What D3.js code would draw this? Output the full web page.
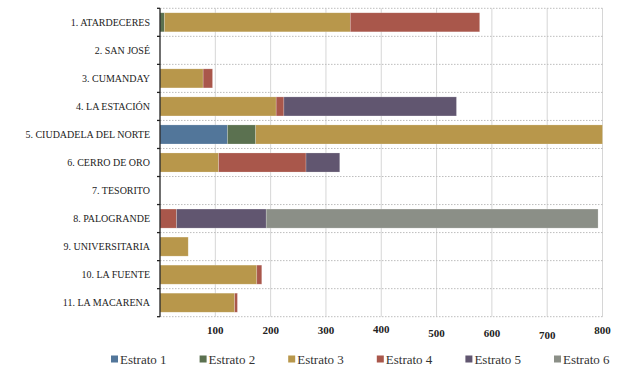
<!DOCTYPE html>
<html><head><meta charset="utf-8">
<script src="https://cdn.jsdelivr.net/npm/d3@7"></script>
<style>body{margin:0;background:#fff}svg{display:block}
text{font-family:"Liberation Serif","Tinos","Times New Roman","DejaVu Serif",serif}</style>
</head><body><svg id="c" width="629" height="372"></svg>
<script>
const categories = ["1. ATARDECERES","2. SAN JOSÉ","3. CUMANDAY","4. LA ESTACIÓN","5. CIUDADELA DEL NORTE","6. CERRO DE ORO","7. TESORITO","8. PALOGRANDE","9. UNIVERSITARIA","10. LA FUENTE","11. LA MACARENA"];
const seriesNames = ["Estrato 1","Estrato 2","Estrato 3","Estrato 4","Estrato 5","Estrato 6"];
const estrato1 = [0,0,0,0,122,0,0,0,0,0,0];
const estrato2 = [8,0,0,0,51,0,0,0,0,0,0];
const estrato3 = [336,0,78,210,627,106,0,0,51,175,135];
const estrato4 = [234,0,17,14,0,158,0,30,0,9,5];
const estrato5 = [0,0,0,312,0,61,0,162,0,0,0];
const estrato6 = [0,0,0,0,0,0,0,600,0,0,0];
const xTicks = [100,200,300,400,500,600,700,800];
const colors = ["#52769a","#5b7150","#b8974b","#a9574b","#615670","#8b8f87"];

const seriesData = [estrato1,estrato2,estrato3,estrato4,estrato5,estrato6];
const rows = categories.map((c,i)=>{const o={cat:c};seriesNames.forEach((s,j)=>o[s]=seriesData[j][i]);return o;});
const stack = d3.stack().keys(seriesNames)(rows);

const svg = d3.select("#c");
const L=160, R=602.5, T=8.3, B=316.7;
const x = d3.scaleLinear().domain([0,800]).range([L,R]);
const y = d3.scaleBand().domain(categories).range([T,B]).paddingInner(0.32).paddingOuter(0.16);
const step = y.step();

svg.append("g").selectAll("line").data(xTicks).join("line")
  .attr("x1",d=>x(d)).attr("x2",d=>x(d)).attr("y1",T).attr("y2",B)
  .attr("stroke","#d6d6d6").attr("stroke-width",1);
const bounds = d3.range(categories.length+1).map(i=>T+i*step);
svg.append("g").selectAll("line").data(bounds).join("line")
  .attr("x1",L).attr("x2",R).attr("y1",d=>d).attr("y2",d=>d)
  .attr("stroke","#bdbdbd").attr("stroke-width",1).attr("stroke-dasharray","1.5,1.5");

svg.append("g").selectAll("g").data(stack).join("g")
  .attr("fill",(d,i)=>colors[i])
  .selectAll("rect").data(d=>d).join("rect")
  .attr("x",d=>x(d[0])).attr("width",d=>Math.max(0,x(d[1])-x(d[0])))
  .attr("y",d=>y(d.data.cat)).attr("height",y.bandwidth())
  .attr("stroke",d=>(d[1]-d[0])>0?"rgba(255,255,255,0.35)":"none").attr("stroke-width",0.6);

svg.append("line").attr("x1",L).attr("x2",L).attr("y1",T).attr("y2",B).attr("stroke","#222").attr("stroke-width",1.3);
svg.append("g").selectAll("line").data(bounds).join("line")
  .attr("x1",L-3).attr("x2",L).attr("y1",d=>d).attr("y2",d=>d).attr("stroke","#222").attr("stroke-width",1.3);

svg.append("g").selectAll("text").data(categories).join("text")
  .attr("x",150).attr("y",d=>y(d)+y.bandwidth()/2).attr("dy","0.35em")
  .attr("text-anchor","end")
  .attr("font-size","10px").attr("fill","#222").text(d=>d);

const tickDy = [0,0,0,-1,3,3,5,0];
svg.append("g").selectAll("text").data(xTicks).join("text")
  .attr("x",d=>x(d)).attr("y",(d,i)=>334+tickDy[i])
  .attr("text-anchor","middle")
  .attr("font-size","11px").attr("font-weight","bold").attr("fill","#222").text(d=>d);

const lg = svg.append("g").selectAll("g").data(seriesNames).join("g")
  .attr("transform",(d,i)=>`translate(${111+i*88.6},359)`);
lg.append("rect").attr("x",0).attr("y",-3.5).attr("width",7).attr("height",7).attr("fill",(d,i)=>colors[i]);
lg.append("text").attr("x",9).attr("y",0).attr("dy","0.35em")
  .attr("font-size","13px").attr("fill","#333").text(d=>d);
</script></body></html>
